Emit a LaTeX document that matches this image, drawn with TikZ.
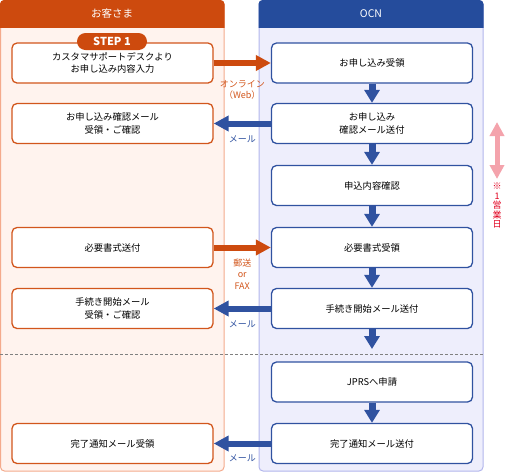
\documentclass[tikz,border=0pt]{standalone}
\usepackage{fontspec}
\setmainfont{Noto Sans CJK JP}
\usetikzlibrary{arrows.meta,positioning}

\definecolor{ohead}{HTML}{CD4A0E}
\definecolor{opanel}{HTML}{FFF3EE}
\definecolor{oedge}{HTML}{F4AA8C}
\definecolor{oline}{HTML}{D2561C}
\definecolor{bhead}{HTML}{254C9C}
\definecolor{bpanel}{HTML}{EEEEFC}
\definecolor{bedge}{HTML}{B2B6EC}
\definecolor{bline}{HTML}{3052A0}
\definecolor{pinkc}{HTML}{F4A3AC}
\definecolor{redc}{HTML}{E0001E}

\newcommand\boxfont{\fontsize{9.3}{13}\selectfont}
\newcommand\lblfont{\fontsize{9}{11.5}\selectfont}

\tikzset{
  kbox/.style={draw=oline, line width=1.3pt, fill=white, rounded corners=5pt,
    minimum width=201pt, minimum height=40pt, inner sep=0pt, align=center, font=\boxfont},
  nbox/.style={kbox, draw=bline},
  head/.style={text=white, font=\fontsize{10.5}{12}\selectfont, inner sep=0pt},
  sidearrow/.style={-{Triangle[length=15pt,width=15pt]}, line width=6pt},
  downarrow/.style={-{Triangle[length=13pt,width=15pt]}, line width=7pt, draw=bline},
  lbl/.style={font=\lblfont, align=center, inner sep=0pt}
}

\begin{document}
\begin{tikzpicture}[x=1pt, y=-1pt]
  \useasboundingbox (0,0) rectangle (505,472);

  % Panels
  \filldraw[fill=opanel, draw=oedge, line width=1pt, rounded corners=4pt] (0.5,0.5) rectangle (224,471);
  \filldraw[fill=bpanel, draw=bedge, line width=1pt, rounded corners=4pt] (259,0.5) rectangle (483,471);
  \begin{scope}
    \clip (0,0) rectangle (505,27);
    \fill[ohead, rounded corners=4pt] (0,0) rectangle (224.5,471);
    \fill[bhead, rounded corners=4pt] (258.5,0) rectangle (483.5,471);
  \end{scope}
  \node[head] (kyaku) at (112,14) {お客さま};
  \node[head] (ocn) at (371,14) {OCN};

  % Separator
  \draw[gray, dash pattern=on 3pt off 2pt] (0,354) -- (483,354);

  % OCN side
  \node[nbox] (n1) at (372,63) {お申し込み受領};
  \node[nbox] (n2) at (372,123.5) {お申し込み\\確認メール送付};
  \node[nbox] (n3) at (372,185.5) {申込内容確認};
  \node[nbox] (n4) at (372,247.5) {必要書式受領};
  \node[nbox] (n5) at (372,308.5) {手続き開始メール送付};
  \node[nbox] (n6) at (372,382) {JPRSへ申請};
  \node[nbox] (n7) at (372,443.5) {完了通知メール送付};

  % Customer side
  \node[kbox] (k1) at (112.5,63) {\raisebox{-3pt}{\shortstack{カスタマサポートデスクより\\[1pt]お申し込み内容入力}}};
  \node[fill=ohead, text=white, rounded corners=8.5pt, minimum width=70pt, minimum height=17pt,
    inner sep=0pt, font=\fontsize{11}{12}\selectfont\bfseries] (step) at (112,41.5) {STEP 1};
  \node[kbox] (k2) at (112.5,123.5) {お申し込み確認メール\\受領・ご確認};
  \node[kbox] (k4) at (112.5,247.5) {必要書式送付};
  \node[kbox] (k5) at (112.5,308.5) {手続き開始メール\\受領・ご確認};
  \node[kbox] (k7) at (112.5,443.5) {完了通知メール受領};

  % Flow down
  \coordinate (cut) at (372,349);
  \foreach \a/\b in {n1/n2, n2/n3, n3/n4, n4/n5, n6/n7}
    \draw[downarrow] (\a.south) -- (\b.north);
  \draw[downarrow] (n5.south) -- (cut);

  % Between the two sides
  \draw[sidearrow, draw=ohead] (k1.east) -- node[lbl, text=oline, below=14pt] (web) {オンライン\\（Web）} (n1.west);
  \draw[sidearrow, draw=bline] (n2.west) -- node[lbl, text=bline, below=9pt] (mail1) {メール} (k2.east);
  \draw[sidearrow, draw=ohead] (k4.east) -- node[lbl, text=oline, below=8pt] (post) {郵送\\or\\FAX} (n4.west);
  \draw[sidearrow, draw=bline] (n5.west) -- node[lbl, text=bline, below=9pt] (mail2) {メール} (k5.east);
  \draw[sidearrow, draw=bline] (n7.west) -- node[lbl, text=bline, below=8pt] (mail3) {メール} (k7.east);

  % One business day
  \coordinate (dtop) at (497,122);
  \coordinate (dbot) at (497,179);
  \draw[{Triangle[length=14pt,width=14pt]}-{Triangle[length=14pt,width=14pt]}, line width=5pt, draw=pinkc] (dtop) -- (dbot);
  \node[text=redc, align=center, inner sep=0pt, font=\fontsize{9}{9.5}\selectfont, below=4pt of dbot] (eigyo) {※\\1\\営\\業\\日};
\end{tikzpicture}
\end{document}
